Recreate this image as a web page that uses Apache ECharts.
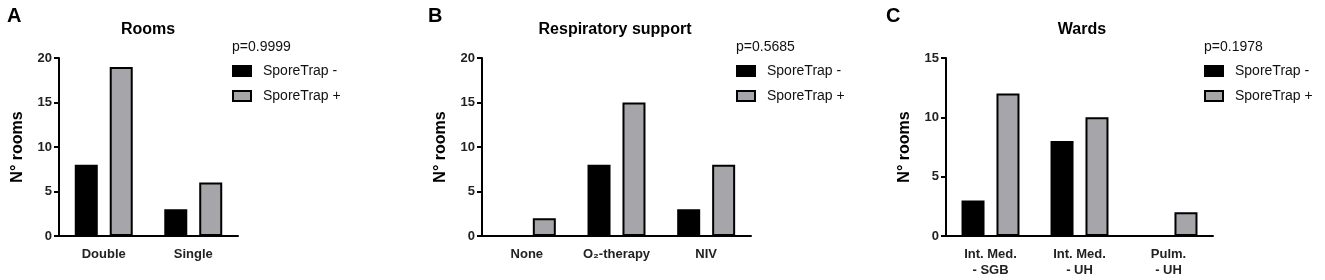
<!DOCTYPE html>
<html>
<head>
<meta charset="utf-8">
<script src="https://cdn.jsdelivr.net/npm/echarts@6/dist/echarts.min.js"></script>
<style>
  html, body { margin: 0; padding: 0; background: #fff; }
  #chart { width: 1325px; height: 280px; }
</style>
</head>
<body>
<div id="chart"></div>
<script>
// ---- data ----
const roomCategories = ['Double', 'Single'];
const roomsNeg = [8, 3];
const roomsPos = [19, 6];

const respCategories = ['None', 'O\u2082-therapy', 'NIV'];
const respNeg = [0, 8, 3];
const respPos = [2, 15, 8];

const wardCategories = ['Int. Med.\n- SGB', 'Int. Med.\n- UH', 'Pulm.\n- UH'];
const wardNeg = [3, 8, 0];
const wardPos = [12, 10, 2];

const panelTitles = ['Rooms', 'Respiratory support', 'Wards'];
const panelLetters = ['A', 'B', 'C'];
const pValues = ['p=0.9999', 'p=0.5685', 'p=0.1978'];
const yMax = [20, 20, 15];

// ---- layout ----
const FONT = '"Liberation Sans", Arial, sans-serif';
const GRAY = '#a6a6aa';
const panels = [
  { left: 59, width: 179, titleX: 148, letterX: 7, legendX: 232 },
  { left: 482, width: 269, titleX: 615, letterX: 428, legendX: 736 },
  { left: 946, width: 267, titleX: 1082, letterX: 886, legendX: 1204 }
];
const categories = [roomCategories, respCategories, wardCategories];
const negData = [roomsNeg, respNeg, wardNeg];
const posData = [roomsPos, respPos, wardPos];

const chart = echarts.init(document.getElementById('chart'));

const grid = panels.map(p => ({ left: p.left, width: p.width, top: 58, bottom: 44 }));

const xAxis = panels.map((p, i) => ({
  type: 'category',
  gridIndex: i,
  data: categories[i],
  axisLine: { lineStyle: { color: '#000', width: 2 } },
  axisTick: { alignWithLabel: true, length: 5, lineStyle: { color: '#000', width: 2 } },
  axisLabel: {
    color: '#222', fontFamily: FONT, fontWeight: 'bold', fontSize: 13,
    margin: 10, lineHeight: 16, interval: 0
  }
}));

const yAxis = panels.map((p, i) => ({
  type: 'value',
  gridIndex: i,
  min: 0,
  max: yMax[i],
  interval: 5,
  name: 'N\u00b0 rooms',
  nameLocation: 'middle',
  nameGap: 33,
  nameTextStyle: { color: '#000', fontFamily: FONT, fontWeight: 'bold', fontSize: 16 },
  axisLine: { show: true, lineStyle: { color: '#000', width: 2 } },
  axisTick: { show: true, length: 5, lineStyle: { color: '#000', width: 2 } },
  splitLine: { show: false },
  axisLabel: { color: '#222', fontFamily: FONT, fontWeight: 'bold', fontSize: 13, margin: 7 }
}));

const series = [];
panels.forEach((p, i) => {
  series.push({
    name: 'SporeTrap -',
    type: 'bar',
    xAxisIndex: i,
    yAxisIndex: i,
    data: negData[i],
    barWidth: 23,
    barGap: '52%',
    itemStyle: { color: '#000', borderColor: '#000', borderWidth: 2 }
  });
  series.push({
    name: 'SporeTrap +',
    type: 'bar',
    xAxisIndex: i,
    yAxisIndex: i,
    data: posData[i],
    barWidth: 23,
    barGap: '52%',
    itemStyle: { color: GRAY, borderColor: '#000', borderWidth: 2 }
  });
});

const legend = panels.map(p => ({
  left: p.legendX,
  top: 64,
  orient: 'vertical',
  icon: 'rect',
  itemWidth: 18,
  itemHeight: 10,
  itemGap: 11,
  padding: 0,
  data: ['SporeTrap -', 'SporeTrap +'],
  textStyle: { color: '#111', fontFamily: FONT, fontSize: 14, padding: [0, 0, 0, 7] }
}));

const graphic = [];
panels.forEach((p, i) => {
  graphic.push({
    type: 'text', x: p.letterX, y: 6,
    style: { text: panelLetters[i], fill: '#000', font: 'bold 20px ' + FONT }
  });
  graphic.push({
    type: 'text', x: p.titleX, y: 22,
    style: { text: panelTitles[i], fill: '#000', font: 'bold 16px ' + FONT, textAlign: 'center' }
  });
  graphic.push({
    type: 'text', x: p.legendX, y: 40,
    style: { text: pValues[i], fill: '#111', font: '14px ' + FONT }
  });
});

chart.setOption({
  animation: false,
  backgroundColor: '#fff',
  grid,
  xAxis,
  yAxis,
  series,
  legend,
  graphic
});
</script>
</body>
</html>
